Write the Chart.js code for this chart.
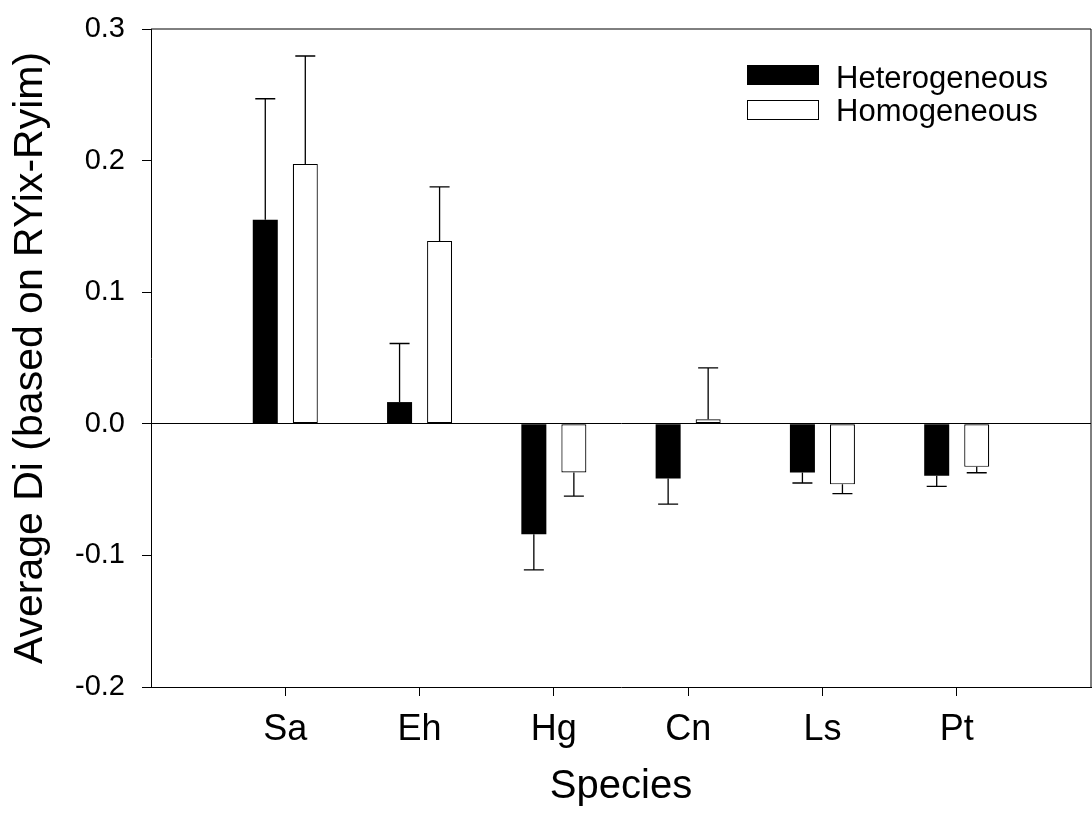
<!DOCTYPE html>
<html>
<head>
<meta charset="utf-8">
<script src="https://cdn.jsdelivr.net/npm/chart.js@4.4.0/dist/chart.umd.min.js"></script>
<style>
    html, body { margin: 0; padding: 0; background: #fff; overflow: hidden; }
    #wrap { width: 1092px; height: 814px; position: relative; }
    #chart { display: block; }
</style>
</head>
<body>
<div id="wrap"><canvas id="chart"></canvas></div>
<script>
// datos
const species = ['Sa', 'Eh', 'Hg', 'Cn', 'Ls', 'Pt'];
const heteroMean = [0.155, 0.0165, -0.084, -0.0415, -0.037, -0.0395];
const heteroErr = [0.092, 0.0445, 0.027, 0.0195, 0.008, 0.008];
const homoMean = [0.1975, 0.139, -0.037, 0.0035, -0.046, -0.0327];
const homoErr = [0.082, 0.041, 0.018, 0.039, 0.007, 0.0045];
const yTicks = [-0.2, -0.1, 0.0, 0.1, 0.2, 0.3];

// categorías vacías en los extremos para dejar el hueco a cada lado
const labels = ['', ...species, ''];
const pad = arr => [null, ...arr, null];

Chart.defaults.font.family = '"Liberation Sans", Arial, sans-serif';
Chart.defaults.color = '#000';

// barras de error (solo hacia fuera, con tapa)
const errorBars = {
    id: 'errorBars',
    afterDatasetsDraw(chart) {
        const ctx = chart.ctx;
        const y = chart.scales.y;
        ctx.save();
        ctx.strokeStyle = '#000';
        ctx.lineWidth = 1.3;
        chart.data.datasets.forEach((ds, d) => {
            const meta = chart.getDatasetMeta(d);
            ds.data.forEach((v, i) => {
                const err = ds.errors[i];
                if (v === null || err === null) return;
                const bar = meta.data[i];
                const sign = v >= 0 ? 1 : -1;
                const y0 = y.getPixelForValue(v);
                const y1 = y.getPixelForValue(v + sign * err);
                ctx.beginPath();
                ctx.moveTo(bar.x, y0);
                ctx.lineTo(bar.x, y1);
                ctx.moveTo(bar.x - 10, y1);
                ctx.lineTo(bar.x + 10, y1);
                ctx.stroke();
            });
        });
        ctx.restore();
    }
};

// marco superior y derecho
const frame = {
    id: 'frame',
    afterDraw(chart) {
        const { ctx, chartArea: a } = chart;
        ctx.save();
        ctx.strokeStyle = '#000';
        ctx.lineWidth = 1;
        ctx.beginPath();
        ctx.moveTo(a.left, a.top);
        ctx.lineTo(a.right, a.top);
        ctx.lineTo(a.right, a.bottom);
        ctx.stroke();
        ctx.restore();
    }
};

// leyenda dentro del área del gráfico
const insideLegend = {
    id: 'insideLegend',
    afterDraw(chart) {
        const ctx = chart.ctx;
        ctx.save();
        ctx.font = '31px "Liberation Sans", Arial, sans-serif';
        ctx.textBaseline = 'alphabetic';
        ctx.textAlign = 'left';
        chart.data.datasets.forEach((ds, i) => {
            const top = 65 + i * 35;
            ctx.fillStyle = ds.backgroundColor;
            ctx.fillRect(747, top, 71, 19);
            ctx.strokeStyle = '#000';
            ctx.lineWidth = 1;
            ctx.strokeRect(747.5, top + 0.5, 71, 19);
            ctx.fillStyle = '#000';
            ctx.fillText(ds.label, 836, 88 + i * 33);
        });
        ctx.restore();
    }
};

const ctx = document.getElementById('chart').getContext('2d');
new Chart(ctx, {
    type: 'bar',
    data: {
        labels,
        datasets: [
            {
                label: 'Heterogeneous',
                data: pad(heteroMean),
                errors: pad(heteroErr),
                backgroundColor: '#000',
                borderColor: '#000',
                borderWidth: 0
            },
            {
                label: 'Homogeneous',
                data: pad(homoMean),
                errors: pad(homoErr),
                backgroundColor: '#fff',
                borderColor: '#000',
                borderWidth: 1.2,
                borderSkipped: false
            }
        ]
    },
    options: {
        responsive: true,
        maintainAspectRatio: false,
        animation: false,
        categoryPercentage: 0.596,
        barPercentage: 0.625,
        layout: { padding: { top: 29, right: 1, bottom: 1, left: 0 } },
        plugins: {
            legend: { display: false },
            tooltip: { enabled: false }
        },
        scales: {
            x: {
                offset: false,
                grid: {
                    offset: false,
                    drawOnChartArea: false,
                    tickLength: 9,
                    tickColor: c => (c.index === 0 || c.index === labels.length - 1) ? 'rgba(0,0,0,0)' : '#000'
                },
                border: { color: '#000', width: 1 },
                ticks: { font: { size: 36 }, padding: 12, maxRotation: 0, autoSkip: false },
                title: { display: true, text: 'Species', font: { size: 40 }, padding: { top: 0, bottom: 2 } },
                afterFit: s => {
                    s.height = 126;
                    s.paddingLeft = 0;
                    s.paddingRight = 0;
                }
            },
            y: {
                min: -0.2,
                max: 0.3,
                afterBuildTicks: s => { s.ticks = yTicks.map(v => ({ value: v })); },
                grid: {
                    drawOnChartArea: true,
                    tickLength: 9,
                    tickColor: '#000',
                    color: c => (c.tick && Math.abs(c.tick.value) < 1e-9) ? '#000' : 'rgba(0,0,0,0)'
                },
                border: { color: '#000', width: 1 },
                ticks: {
                    font: { size: 29 },
                    padding: 17,
                    callback: v => Number(v).toFixed(1)
                },
                title: {
                    display: true,
                    text: 'Average Di (based on RYix-Ryim)',
                    font: { size: 41 },
                    padding: { top: 6, bottom: 0 }
                },
                afterFit: s => {
                    s.width = 151;
                    s.paddingTop = 0;
                    s.paddingBottom = 0;
                }
            }
        }
    },
    plugins: [errorBars, frame, insideLegend]
});
</script>
</body>
</html>
